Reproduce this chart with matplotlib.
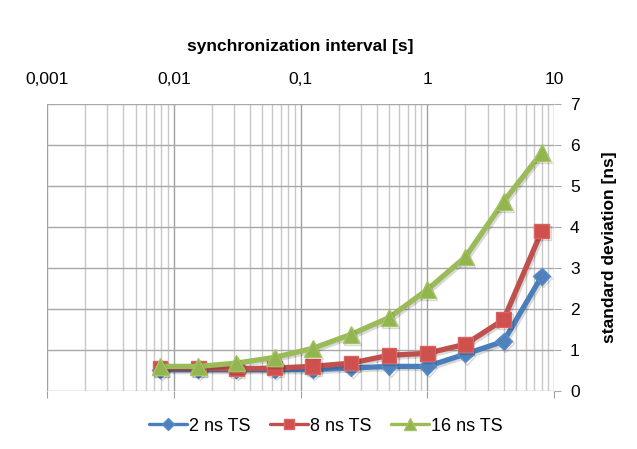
import matplotlib
matplotlib.use("Agg")
import matplotlib.pyplot as plt
import matplotlib.patheffects as pe
from matplotlib.ticker import FixedLocator, LogLocator, NullFormatter, FixedFormatter

plt.rcParams['font.family'] = ['Liberation Sans', 'DejaVu Sans']

intervals = [0.0078125, 0.015625, 0.03125, 0.0625, 0.125, 0.25, 0.5, 1, 2, 4, 8]
ts2 = [0.52, 0.52, 0.52, 0.52, 0.52, 0.56, 0.6, 0.6, 0.9, 1.21, 2.8]
ts8 = [0.56, 0.56, 0.54, 0.56, 0.6, 0.68, 0.87, 0.92, 1.14, 1.74, 3.9]
ts16 = [0.6, 0.6, 0.68, 0.82, 1.04, 1.38, 1.79, 2.47, 3.27, 4.62, 5.81]
series_names = ["2 ns TS", "8 ns TS", "16 ns TS"]
x_ticks = [0.001, 0.01, 0.1, 1, 10]
x_tick_labels = ["0,001", "0,01", "0,1", "1", "10"]
y_ticks = [0, 1, 2, 3, 4, 5, 6, 7]

fig = plt.figure(figsize=(6.37, 4.49), dpi=100)
ax = fig.add_axes([0.0738, 0.1292, 0.7959, 0.6392])

ax.set_xscale('log')
ax.set_xlim(0.001, 10)
ax.set_ylim(0, 7)

ax.xaxis.set_major_locator(FixedLocator(x_ticks))
ax.xaxis.set_major_formatter(FixedFormatter(x_tick_labels))
ax.xaxis.set_minor_locator(LogLocator(base=10, subs=range(2, 10)))
ax.xaxis.set_minor_formatter(NullFormatter())
ax.set_yticks(y_ticks)

ax.grid(True, which='major', axis='x', color='#a0a0a0', lw=1.0)
ax.grid(True, which='minor', axis='x', color='#c8c8c8', lw=1.0)
ax.grid(True, which='major', axis='y', color='#a8a8a8', lw=1.0)
ax.set_axisbelow(True)

for s in ['top', 'right', 'bottom', 'left']:
    ax.spines[s].set_visible(False)

ax.xaxis.set_ticks_position('both')
ax.tick_params(axis='x', which='major', top=False, bottom=True, labeltop=True,
               labelbottom=False, length=5, color='#a0a0a0', labelsize=12.5, pad=7.5)
ax.tick_params(axis='x', which='minor', top=False, bottom=False)
ax.yaxis.tick_right()
ax.tick_params(axis='y', which='major', length=5, color='#a8a8a8', labelsize=12.5, pad=6.5)

ax.xaxis.set_label_position('top')
ax.set_xlabel('synchronization interval [s]', fontweight='bold', fontsize=12.5, labelpad=15)
ax.yaxis.set_label_position('right')
ax.set_ylabel('standard deviation [ns]', fontweight='bold', fontsize=12.5, labelpad=16)

shadow = [pe.SimpleLineShadow(offset=(1.2, -1.5), shadow_color='black', alpha=0.15), pe.Normal()]

styles = [
    dict(color='#4a7ebb', marker='D', ms=8.5, mfc='#4f81bd', mec='#5a8cc8'),
    dict(color='#c0504d', marker='s', ms=10.5, mfc='#d0504d', mec='#d86461'),
    dict(color='#9bbb59', marker='^', ms=12, mfc='#92b550', mec='#a4c464'),
]
for vals, name, st in zip([ts2, ts8, ts16], series_names, styles):
    ax.plot(intervals, vals, lw=3.8, label=name, solid_joinstyle='round',
            solid_capstyle='round', path_effects=shadow, zorder=3, **st)

leg = ax.legend(loc='center', bbox_to_anchor=(0.55, -0.122), ncol=3, frameon=False,
                fontsize=13, handlelength=2.1, columnspacing=1.1, handletextpad=0.1)
for h, ms in zip(leg.legend_handles, [6, 7.5, 8.5]):
    h.set_linewidth(2.4)
    h.set_markersize(ms)
    h.set_path_effects([])

fig.savefig('out.png', dpi=100)
